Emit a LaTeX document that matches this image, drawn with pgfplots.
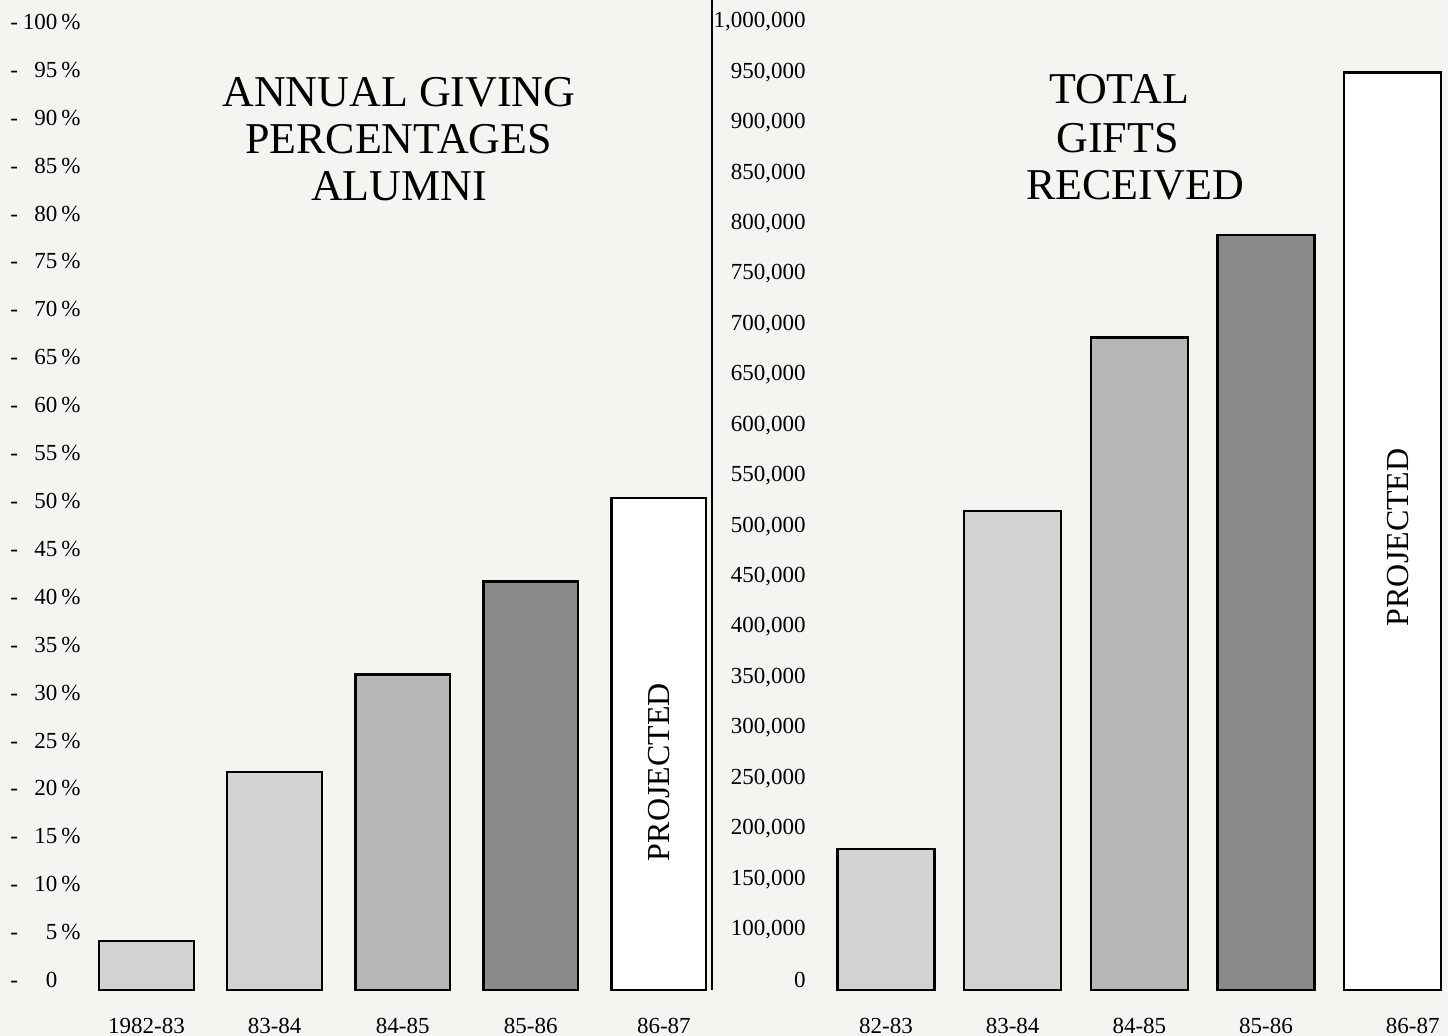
\documentclass[border=0pt]{standalone}
\usepackage{pgfplots}
\pgfplotsset{compat=1.18}
\usepackage{fontspec}
\setmainfont{Liberation Serif}
\definecolor{bgcol}{RGB}{244,244,241}
\definecolor{lightbar}{RGB}{210,210,210}
\definecolor{midbar}{RGB}{182,182,182}
\definecolor{darkbar}{RGB}{138,138,138}
\newcommand\fpuadd[2]{\begingroup\pgfkeys{/pgf/fpu=true,/pgf/fpu/output format=fixed}\pgfmathparse{#1+(#2)}\xdef\fpuaddres{\pgfmathresult}\endgroup\let\pgfmathresult\fpuaddres}
\newcommand\pl[1]{\makebox[35pt]{-\hfill#1\,\%}}
\newcommand\plz{\makebox[35pt]{-\hfill 0\phantom{\,\%}}}
\begin{document}
\begin{tikzpicture}
\fill[bgcol] (0pt,0pt) rectangle (724pt,518pt);
\path[use as bounding box] (0pt,0pt) rectangle (724pt,518pt);
% ---------------- left chart ----------------
\begin{axis}[
  at={(41.225pt,23pt)}, anchor=south west,
  scale only axis, width=320.25pt, height=484pt,
  xmin=-0.5, xmax=4.5, ymin=-1.04, ymax=100,
  y coord trafo/.code={\fpuadd{#1}{1.04}},
  y coord inv trafo/.code={\fpuadd{#1}{-1.04}},
  axis line style={draw=none}, major tick length=0pt,
  ybar, bar width=0.74, bar shift=0pt,
  clip=false,
  xtick={0,1,2,3,4},
  xticklabels={1982-83,83-84,84-85,85-86,{\hspace*{5pt}86-87}},
  ytick={0,5,10,15,20,25,30,35,40,45,50,55,60,65,70,75,80,85,90,95,100},
  yticklabels={\plz,\pl{5},\pl{10},\pl{15},\pl{20},\pl{25},\pl{30},\pl{35},\pl{40},\pl{45},\pl{50},\pl{55},\pl{60},\pl{65},\pl{70},\pl{75},\pl{80},\pl{85},\pl{90},\pl{95},\pl{100}},
  tick label style={font=\fontsize{11.5}{13}\selectfont},
  yticklabel style={anchor=west, inner sep=0pt, xshift=-36.2pt},
  xticklabel style={anchor=north, inner sep=0pt, yshift=-14pt},
  every axis plot/.append style={draw=black, line width=1.2pt},
]
\addplot[fill=lightbar] coordinates {(0,4.1)};
\addplot[fill=lightbar] coordinates {(1,21.7)};
\addplot[fill=midbar] coordinates {(2,31.9)};
\addplot[fill=darkbar] coordinates {(3,41.6)};
\addplot[fill=white] coordinates {(4,50.3)};
\node[rotate=90, font=\fontsize{16}{18}\selectfont] at (axis cs:4,21.7) {PROJECTED};
\end{axis}
% ---------------- right chart ----------------
\begin{axis}[
  at={(356pt,23pt)}, anchor=south west,
  scale only axis, width=368pt, height=495pt,
  xmin=-1.373, xmax=4.436, ymin=40083, ymax=1021816,
  y coord trafo/.code={\fpuadd{#1}{-40083}},
  y coord inv trafo/.code={\fpuadd{#1}{40083}},
  axis line style={draw=none}, major tick length=0pt,
  ybar, bar width=0.766, bar shift=0pt,
  clip=false,
  xtick={0,1,2,3,4},
  xticklabels={82-83,83-84,84-85,85-86,{\hspace*{20pt}86-87}},
  ytick={50000,100000,150000,200000,250000,300000,350000,400000,450000,500000,550000,600000,650000,700000,750000,800000,850000,900000,950000,1000000},
  yticklabels={0,{100,000},{150,000},{200,000},{250,000},{300,000},{350,000},{400,000},{450,000},{500,000},{550,000},{600,000},{650,000},{700,000},{750,000},{800,000},{850,000},{900,000},{950,000},{1,000,000}},
  tick label style={font=\fontsize{11.5}{13}\selectfont},
  yticklabel style={anchor=east, inner sep=0pt, xshift=47pt},
  xticklabel style={anchor=north, inner sep=0pt, yshift=-14pt},
  every axis plot/.append style={draw=black, line width=1.2pt},
]
\draw[line width=1pt] (rel axis cs:0,0) -- (rel axis cs:0,1);
\addplot[fill=lightbar] coordinates {(0,180000)};
\addplot[fill=lightbar] coordinates {(1,515000)};
\addplot[fill=midbar] coordinates {(2,687000)};
\addplot[fill=darkbar] coordinates {(3,789000)};
\addplot[fill=white] coordinates {(4,950000)};
\node[rotate=90, font=\fontsize{16}{18}\selectfont] at (axis cs:4.04,489000) {PROJECTED};
\end{axis}
% ---------------- titles ----------------
\begin{scope}[every node/.style={font=\fontsize{22}{24}\selectfont, anchor=base, inner sep=0pt}]
\node at (199.5pt,464.5pt) {ANNUAL GIVING};
\node at (199.25pt,441pt) {PERCENTAGES};
\node at (199.5pt,417.5pt) {ALUMNI};
\node at (559.5pt,466pt) {TOTAL};
\node at (558.75pt,441.5pt) {GIFTS};
\node at (567.5pt,418pt) {RECEIVED};
\end{scope}
\end{tikzpicture}
\end{document}
